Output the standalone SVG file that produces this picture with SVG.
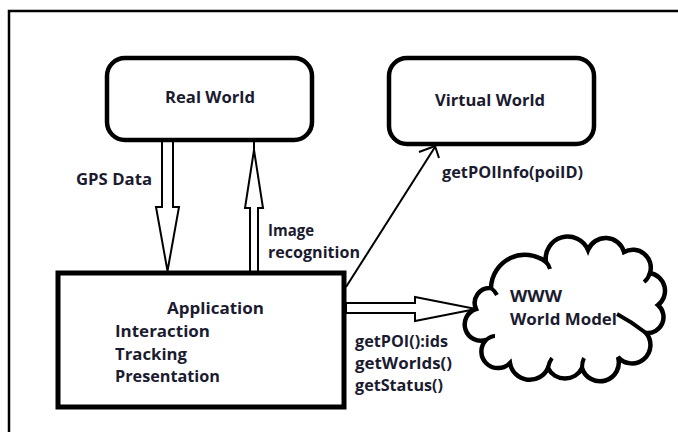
<svg xmlns="http://www.w3.org/2000/svg" width="678" height="432" viewBox="0 0 678 432">
  <style>
    .box { fill: #ffffff; stroke: #000000; stroke-width: 4.5; }
    .hollow { fill: #ffffff; stroke: #000000; stroke-width: 2; stroke-linejoin: miter; }
    .line { fill: none; stroke: #000000; stroke-width: 2; }
    .frame { fill: none; stroke: #000000; stroke-width: 2.5; }
    .lbl { font-family: "Open Sans", "Liberation Sans", sans-serif; font-weight: 700; font-size: 15.5px; fill: #1b1b2f; }
  </style>

  <rect width="678" height="432" fill="#ffffff"/>
  <path class="frame" d="M9,432 V11 H678"/>

  <g id="connectors">
    <!-- GPS data: hollow block arrow down -->
    <polygon class="hollow" points="162,141 162,207 156,207 167.5,271 179,207 173,207 173,141"/>
    <!-- image recognition: hollow block arrow up -->
    <polygon class="hollow" points="250,272 250,208 245,208 254,150 263,208 258,208 258,272"/>
    <line class="line" x1="254" y1="141" x2="254" y2="150"/>
    <!-- application to virtual world -->
    <line class="line" x1="346" y1="287" x2="435" y2="147"/>
    <polyline class="line" points="419,152 435,146 439,158"/>
    <!-- application to WWW: hollow block arrow right -->
    <polygon class="hollow" points="346,303 415,303 415,297 476,309 415,321 415,313 346,313"/>
    <text class="lbl" x="76" y="185" textLength="76" lengthAdjust="spacingAndGlyphs">GPS Data</text>
    <text class="lbl" x="268" y="236" textLength="46" lengthAdjust="spacingAndGlyphs">Image</text>
    <text class="lbl" x="268" y="258" textLength="92" lengthAdjust="spacingAndGlyphs">recognition</text>
    <text class="lbl" x="442" y="178" textLength="141" lengthAdjust="spacingAndGlyphs">getPOIInfo(poiID)</text>
    <text class="lbl" x="355" y="347" textLength="93" lengthAdjust="spacingAndGlyphs">getPOI():ids</text>
    <text class="lbl" x="355" y="369" textLength="97" lengthAdjust="spacingAndGlyphs">getWorlds()</text>
    <text class="lbl" x="355" y="391" textLength="88" lengthAdjust="spacingAndGlyphs">getStatus()</text>
  </g>

  <g id="real-world">
    <rect class="box" x="107" y="58" width="205" height="82" rx="18" ry="18"/>
    <text class="lbl" x="165" y="103" textLength="90" lengthAdjust="spacingAndGlyphs">Real World</text>
  </g>

  <g id="virtual-world">
    <rect class="box" x="389" y="58" width="205" height="86" rx="18" ry="18"/>
    <text class="lbl" x="435" y="106" textLength="110" lengthAdjust="spacingAndGlyphs">Virtual World</text>
  </g>

  <g id="application">
    <rect class="box" x="58" y="273" width="286" height="134" style="stroke-width:5"/>
    <text class="lbl" x="167" y="314" textLength="97" lengthAdjust="spacingAndGlyphs">Application</text>
    <text class="lbl" x="115" y="337" textLength="95" lengthAdjust="spacingAndGlyphs">Interaction</text>
    <text class="lbl" x="115" y="360" textLength="72" lengthAdjust="spacingAndGlyphs">Tracking</text>
    <text class="lbl" x="115" y="382" textLength="105" lengthAdjust="spacingAndGlyphs">Presentation</text>
  </g>

  <g id="www">
    <path class="box" d="M476,309 A15,15 0 0 1 491,288 A34,34 0 0 1 546,262 A22,22 0 0 1 588,250 A19,19 0 0 1 624,252 A18,18 0 0 1 650,273 A18,18 0 0 1 658,305 A16,16 0 0 1 646,333 A18,18 0 0 1 618,357 A18,18 0 0 1 582,368 A19,19 0 0 1 548,368 A20,20 0 0 1 510,363 A16,16 0 0 1 486,340 A16,16 0 0 1 476,309 Z"/>
    <path class="line" style="stroke-width:4" d="M491,288 Q495,291 497,295 M546,262 Q549,265 550,269 M650,273 Q648,279 644,282 M646,333 Q632,322 617,314 M582,368 Q582,362 584,358 M548,368 Q549,362 552,358 M486,340 Q491,336 495,336"/>
    <text class="lbl" x="510" y="302" textLength="52" lengthAdjust="spacingAndGlyphs">WWW</text>
    <text class="lbl" x="510" y="325" textLength="107" lengthAdjust="spacingAndGlyphs">World Model</text>
  </g>
</svg>
